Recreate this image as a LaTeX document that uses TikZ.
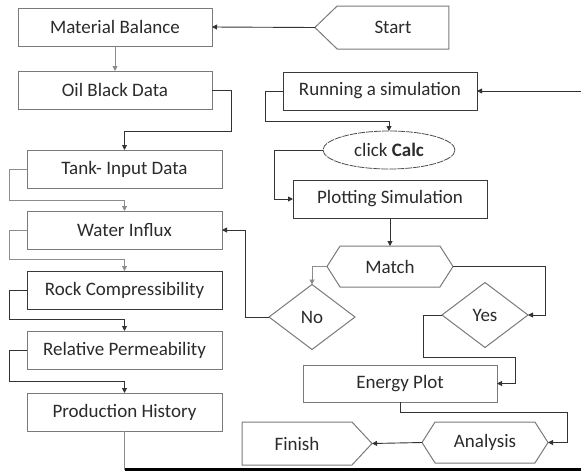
\documentclass[tikz,border=0pt]{standalone}
\usepackage{fontspec}
\setmainfont{Carlito}
\usetikzlibrary{shapes.geometric,shapes.symbols,arrows.meta,calc}
\definecolor{txt}{HTML}{2B2B2B}
\definecolor{bord}{HTML}{7A7A7A}
\definecolor{dbord}{HTML}{3A3A3A}
\tikzset{
  base/.style={font=\fontsize{19}{22}\selectfont, text=txt, inner sep=0pt, outer sep=0pt, line width=1pt},
  box/.style={base, draw=bord, rectangle, minimum width=194pt, minimum height=38pt},
  dbox/.style={box, draw=dbord},
  sig/.style={base, draw=bord, signal, minimum height=41pt},
  dia/.style={base, draw=bord, diamond, minimum width=86pt, minimum height=65pt},
  ln/.style={draw=black!80, line width=0.9pt},
  lg/.style={draw=black!45, line width=0.9pt},
  arr/.style={-{Triangle[length=5pt,width=5pt]}},
}
\begin{document}
\begin{tikzpicture}[x=1pt,y=-1pt]
\useasboundingbox[fill=white] (0,0) rectangle (581,472);
% left column
\node[box] (mb) at (115,27) {Material Balance};
\node[box] (ob) at (115,90) {Oil Black Data};
\node[box, minimum width=195pt] (tank) at (124.5,169) {Tank- Input Data};
\node[box, minimum width=195pt] (water) at (124.5,230) {Water Influx};
\node[dbox, minimum width=195pt] (rock) at (124.5,290) {Rock Compressibility};
\node[box, minimum width=195pt] (rel) at (124.5,350) {Relative Permeability};
\node[box, minimum width=195pt] (prod) at (124.5,412) {Production History};
% right column
\node[sig, signal to=west, signal pointer angle=88, minimum width=134pt, minimum height=43pt] (start) at (393,27.5) {Start};
\node[dbox] (run) at (380,91) {Running a simulation};
\node[base, ellipse, draw=black!70, dashed, dash pattern=on 7pt off 1pt, line width=0.8pt, minimum width=132pt, minimum height=38pt] (calc) at (389,150) {click \textbf{Calc}};
\node[box, draw=dbord] (plot) at (390,199) {Plotting Simulation};
\node[sig, signal to=west and east, signal pointer angle=115, minimum width=126pt] (match) at (390,266.5) {Match};
\node[dia] (no) at (312,317) {No};
\node[dia] (yes) at (485,315) {Yes};
\node[box, minimum height=37pt] (energy) at (400,383.5) {Energy Plot};
\node[sig, signal to=west and east, signal pointer angle=115, minimum width=126pt] (analysis) at (485,442.5) {Analysis};
\node[sig, signal to=east, signal pointer angle=94, minimum width=130pt, minimum height=43pt] (finish) at (297,443.5) {Finish};
% free ends
\coordinate (redge) at (581,91);
\coordinate (pb) at (124.5,469.5);
\coordinate (pe) at (581,469.5);
\coordinate (c1) at (231,131);
\coordinate (c2) at (265,121);
\coordinate (c4) at (515,357);
\coordinate (c5) at (567,412);
% connectors
\draw[ln, arr] (start.west) -- (mb.east);
\draw[lg, arr] (mb.south) -- (ob.north);
\draw[ln, arr] (ob.east) -| (c1) -| (tank.north);
\draw[lg, arr] (tank.west) -- ++(-18,0) |- ($(water.north)+(0,-11)$) -- (water.north);
\draw[lg, arr] (water.west) -- ++(-18,0) |- ($(rock.north)+(0,-12)$) -- (rock.north);
\draw[ln, arr] (rock.west) -- ++(-18,0) |- ($(rel.north)+(0,-12)$) -- (rel.north);
\draw[ln, arr] (rel.west) -- ++(-18,0) |- ($(prod.north)+(0,-12)$) -- (prod.north);
\draw[lg] (prod.south) -- (pb);
\draw[draw=black, line width=2.6pt] (pb) -- (pe);
\draw[ln, arr] (redge) -- (run.east);
\draw[ln, arr] (run.west) -| (c2) -| (calc.north);
\draw[ln, arr] (calc.west) -- ++(-49,0) |- (plot.west);
\draw[ln, arr] (plot.south) -- (match.north);
\draw[lg, arr] (match.west) -| (no.north);
\draw[ln, arr] (match.east) -- ++(92,0) |- (yes.east);
\draw[ln, arr] (yes.west) -- ++(-19,0) |- (c4) |- (energy.east);
\draw[ln, arr] (energy.south) |- (c5) |- (analysis.east);
\draw[ln, arr] (analysis.west) -- (finish.east);
\draw[ln, arr] (no.west) -- ++(-24,0) |- (water.east);
\end{tikzpicture}
\end{document}
